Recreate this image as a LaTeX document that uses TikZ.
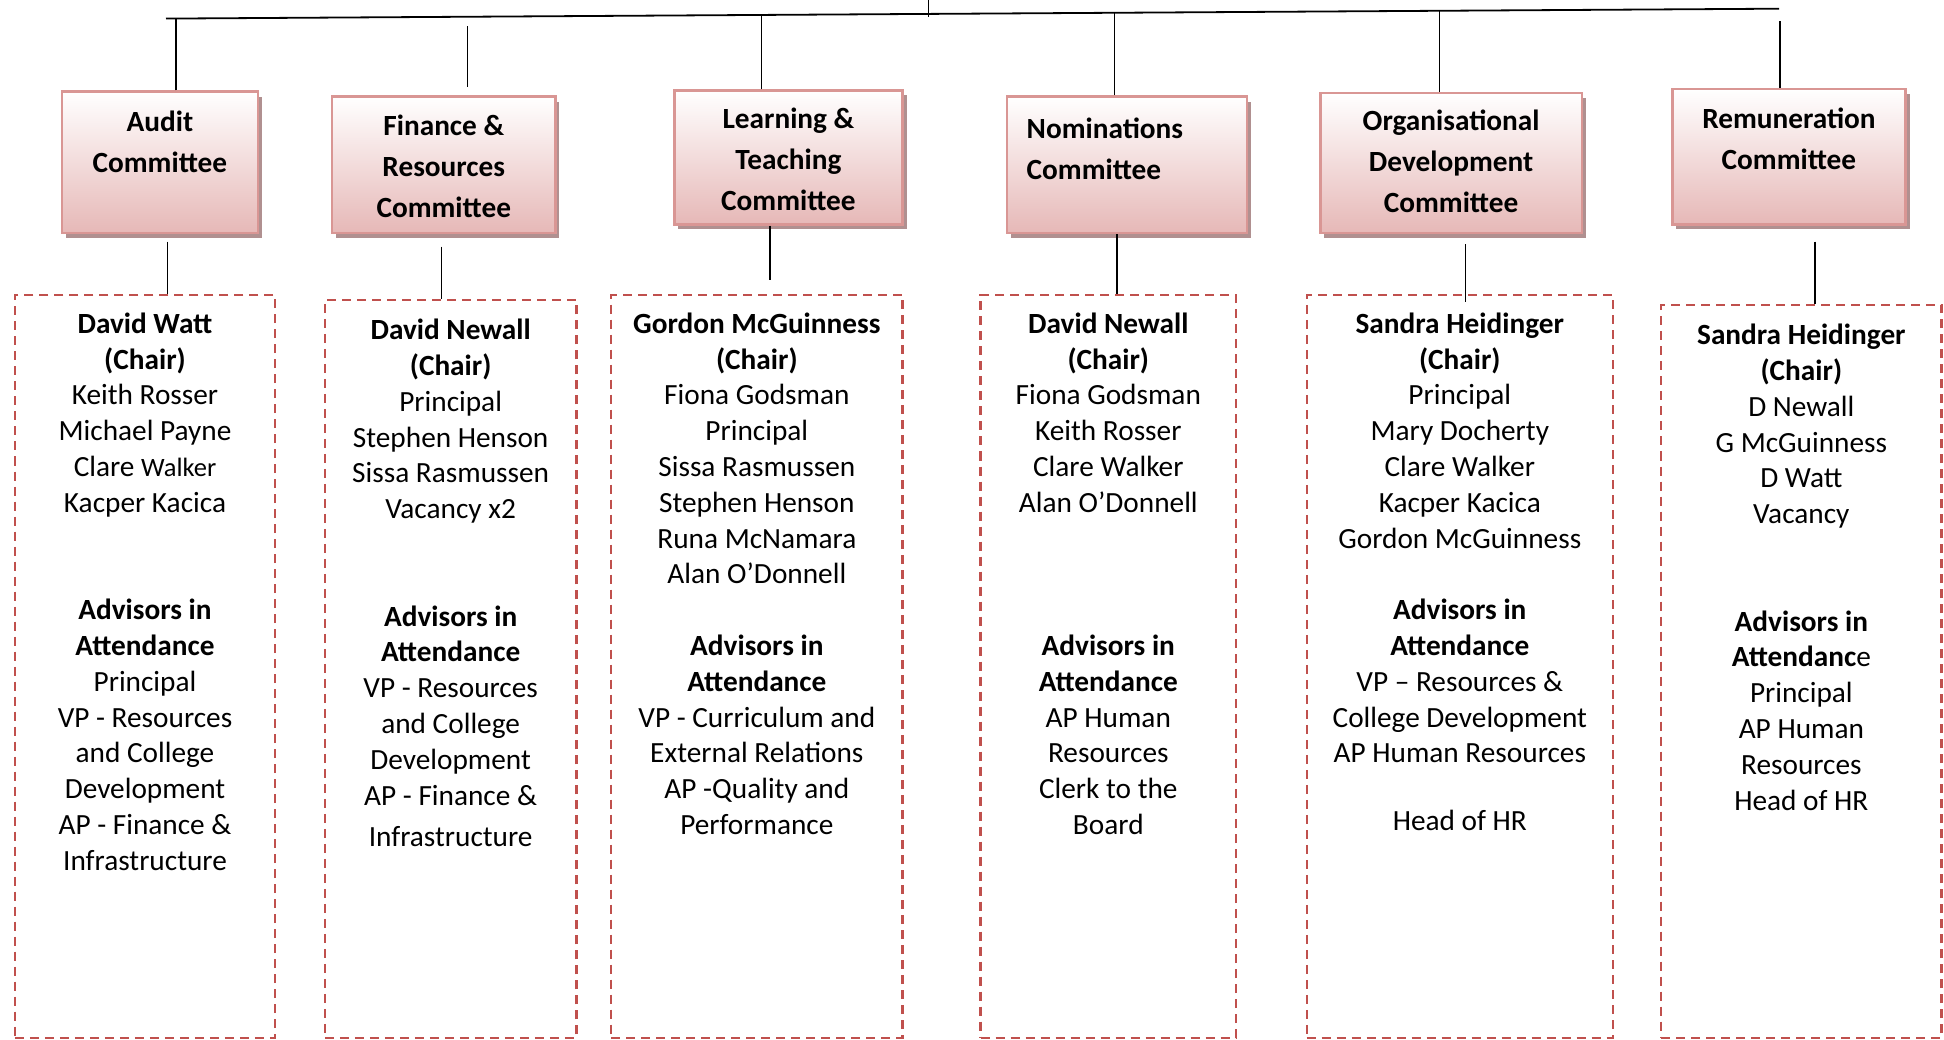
\documentclass[tikz,border=0pt]{standalone}
\usepackage{fontspec}
\setmainfont{Carlito}
\usetikzlibrary{shadows}
\definecolor{boxedge}{HTML}{D99694}
\definecolor{boxfill}{HTML}{E6B8B7}
\definecolor{boxshadow}{HTML}{B09090}
\definecolor{paneledge}{HTML}{C0504D}
\tikzset{
  cbox/.style={draw=boxedge, line width=2.4pt, top color=white, bottom color=boxfill,
    anchor=north west, inner sep=0pt,
    drop shadow={shadow xshift=4pt, shadow yshift=-5pt, fill=boxshadow, opacity=1}},
  ctitle/.style={anchor=north, align=center, inner sep=0pt, font=\bfseries\fontsize{29.3}{41}\selectfont},
  panel/.style={draw=paneledge, line width=2.4pt, dash pattern=on 9pt off 6pt, anchor=north west, inner sep=0pt},
  roster/.style={anchor=north, align=center, inner sep=0pt, font=\fontsize{29.3}{35.8}\selectfont},
  link/.style={line width=1.4pt}
}
\begin{document}
\begin{tikzpicture}[x=1pt,y=-1pt]
  \useasboundingbox (0,0) rectangle (1944,1040);

  \coordinate (busL) at (166,18.6);
  \coordinate (busR) at (1779,8.7);
  \coordinate (board) at (928.6,0);
  \draw[line width=1.8pt] (busL) -- (busR);
  \draw[link] (board) -- ++(0,17.4);

  \node[cbox, minimum width=196, minimum height=141.3] (c1) at (60.7,90.5) {};
  \node[cbox, minimum width=223.2, minimum height=136.3] (c2) at (331,95.5) {};
  \node[cbox, minimum width=228.1, minimum height=133.9] (c3) at (673.2,89.3) {};
  \node[cbox, minimum width=240.5, minimum height=136.3] (c4) at (1005.5,95.5) {};
  \node[cbox, minimum width=261.6, minimum height=140.1] (c5) at (1319.1,91.7) {};
  \node[cbox, minimum width=233.1, minimum height=135.2] (c6) at (1671.2,88) {};

  \node[ctitle] (n1) at ([yshift=-20.7pt]c1.north) {Audit\\Committee};
  \node[ctitle] (n2) at ([yshift=-19.5pt]c2.north) {Finance \&\\Resources\\Committee};
  \node[ctitle] (n3) at ([yshift=-18.5pt]c3.north) {Learning \&\\Teaching\\Committee};
  \node[ctitle, anchor=north west, align=left] (n4) at ([xshift=21pt,yshift=-22.5pt]c4.north west) {Nominations\\Committee};
  \node[ctitle] (n5) at ([yshift=-18.5pt]c5.north) {Organisational\\Development\\Committee};
  \node[ctitle] (n6) at ([yshift=-19.5pt]c6.north) {Remuneration\\Committee};

  \draw[link] ([xshift=16pt]c1.north) -- ++(0,-72);
  \draw[link] ([xshift=23.6pt,yshift=8.7pt]c2.north) -- ++(0,-60.8);
  \draw[link] ([xshift=-27pt]c3.north) -- ++(0,-74.3);
  \draw[link] ([xshift=-12.5pt]c4.north) -- ++(0,-82.7);
  \draw[link] ([xshift=-11.7pt]c5.north) -- ++(0,-80.9);
  \draw[link] ([xshift=-8.8pt]c6.north) -- ++(0,-67);

  \node[panel, minimum width=260.4, minimum height=742.7] (p1) at (13.6,293.8) {};
  \node[panel, minimum width=251.7, minimum height=737.7] (p2) at (323.6,298.8) {};
  \node[panel, minimum width=291.3, minimum height=742.7] (p3) at (610,293.8) {};
  \node[panel, minimum width=255.4, minimum height=742.7] (p4) at (979.4,293.8) {};
  \node[panel, minimum width=306.2, minimum height=742.7] (p5) at (1305.5,293.8) {};
  \node[panel, minimum width=280.3, minimum height=732.8] (p6) at (1660,303.7) {};

  \draw[link] ([xshift=7.4pt,yshift=-7.5pt]c1.south) -- ([xshift=7.4pt]c1.south |- p1.north);
  \draw[link] ([xshift=-2.5pt,yshift=-12.4pt]c2.south) -- ([xshift=-2.5pt]c2.south |- p2.north);
  \draw[link] ([xshift=-18.6pt]c3.south) -- ([xshift=-18.6pt,yshift=13.6pt]c3.south |- p3.north);
  \draw[link] ([xshift=-10pt]c4.south) -- ([xshift=-10pt]c4.south |- p4.north);
  \draw[link] ([xshift=14.3pt,yshift=-10pt]c5.south) -- ([xshift=14.3pt,yshift=-8.7pt]c5.south |- p5.north);
  \draw[link] ([xshift=26pt,yshift=-16.1pt]c6.south) -- ([xshift=26pt]c6.south |- p6.north);

  \node[roster] (r1) at ([yshift=-18.7pt]p1.north) {\textbf{David Watt}\\\textbf{(Chair)}\\Keith Rosser\\Michael Payne\\Clare {\fontsize{26.5}{35.8}\selectfont Walker}\\Kacper Kacica\\[71.6pt]\textbf{Advisors in}\\\textbf{Attendance}\\Principal\\VP - Resources\\and College\\Development\\AP - Finance \&\\Infrastructure};
  \node[roster] (r2) at ([yshift=-20.2pt]p2.north) {\textbf{David Newall}\\\textbf{(Chair)}\\Principal\\Stephen Henson\\Sissa Rasmussen\\Vacancy x2\\[71.6pt]\textbf{Advisors in}\\\textbf{Attendance}\\VP - Resources\\and College\\Development\\AP - Finance \&\\[6pt]Infrastructure};
  \node[roster] (r3) at ([yshift=-18.7pt]p3.north) {\textbf{Gordon McGuinness}\\\textbf{(Chair)}\\Fiona Godsman\\Principal\\Sissa Rasmussen\\Stephen Henson\\Runa McNamara\\Alan O’Donnell\\[35.8pt]\textbf{Advisors in}\\\textbf{Attendance}\\VP - Curriculum and\\External Relations\\AP -Quality and\\Performance};
  \node[roster] (r4) at ([yshift=-18.7pt]p4.north) {\textbf{David Newall}\\\textbf{(Chair)}\\Fiona Godsman\\Keith Rosser\\Clare Walker\\Alan O’Donnell\\[107.4pt]\textbf{Advisors in}\\\textbf{Attendance}\\AP Human\\Resources\\Clerk to the\\Board};
  \node[roster] (r5) at ([yshift=-18.7pt]p5.north) {\textbf{Sandra Heidinger}\\\textbf{(Chair)}\\Principal\\Mary Docherty\\Clare Walker\\Kacper Kacica\\Gordon McGuinness\\[35.8pt]\textbf{Advisors in}\\\textbf{Attendance}\\VP – Resources \&\\College Development\\AP Human Resources\\[32pt]Head of HR};
  \node[roster] (r6) at ([yshift=-20.2pt]p6.north) {\textbf{Sandra Heidinger}\\\textbf{(Chair)}\\D Newall\\G McGuinness\\D Watt\\Vacancy\\[71.6pt]\textbf{Advisors in}\\\textbf{Attendanc}e\\Principal\\AP Human\\Resources\\Head of HR};
\end{tikzpicture}
\end{document}
